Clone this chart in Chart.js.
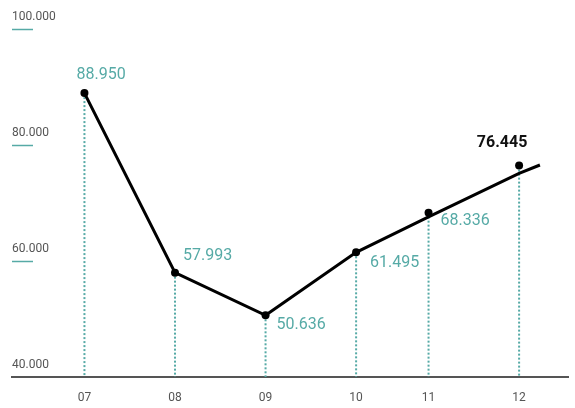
<!DOCTYPE html>
<html>
<head>
<meta charset="utf-8">
<script src="https://cdn.jsdelivr.net/npm/chart.js@4/dist/chart.umd.min.js"></script>
<style>
  html, body { margin: 0; padding: 0; background: #fff; }
  #wrap { width: 575px; height: 408px; }
</style>
</head>
<body>
<div id="wrap"><canvas id="chart"></canvas></div>
<script>
// months on the x axis (11 sits a bit closer to 10 in the original)
var months = ['07', '08', '09', '10', '11', '12'];
var monthPos = [0, 1, 2, 3, 3.8, 4.8];
var values = [88950, 57993, 50636, 61495, 68336, 76445];

// the black line follows the values up to 10, then a trend line past 12
var trendPos = [0, 1, 2, 3, 3.8, 4.8, 5.03];
var trendValues = [88950, 57993, 50636, 61495, 67600, 75100, 76550];

var yTicks = [40000, 60000, 80000, 100000];

var teal = '#56aaa6';
var grey = '#555555';

function fmt(v) {
	return String(Math.round(v)).replace(/\B(?=(\d{3})+(?!\d))/g, '.');
}

// label offsets from each point: [dx, dy, align]
var labelPlace = [
	[-8, -18, 'left'],
	[8, -17, 'left'],
	[11, 10, 'left'],
	[14, 11, 'left'],
	[12, 8, 'left'],
	[-17, -23, 'center']
];

var decor = {
	id: 'decor',
	beforeDatasetsDraw: function(chart) {
		var ctx = chart.ctx, x = chart.scales.x, y = chart.scales.y;
		var area = chart.chartArea;
		ctx.save();
		// short teal marks under the y labels
		ctx.strokeStyle = teal;
		ctx.lineWidth = 1.5;
		yTicks.forEach(function(t, i) {
			if (i == 0) return;
			var py = Math.round(y.getPixelForValue(t)) + 0.5;
			ctx.beginPath();
			ctx.moveTo(area.left, py);
			ctx.lineTo(area.left + 21, py);
			ctx.stroke();
		});
		// dotted drop lines
		ctx.lineWidth = 2;
		ctx.setLineDash([2, 2]);
		values.forEach(function(v, i) {
			var px = x.getPixelForValue(monthPos[i]);
			ctx.beginPath();
			ctx.moveTo(px, y.getPixelForValue(v));
			ctx.lineTo(px, area.bottom);
			ctx.stroke();
		});
		ctx.restore();
	},
	afterDatasetsDraw: function(chart) {
		var ctx = chart.ctx, x = chart.scales.x, y = chart.scales.y;
		ctx.save();
		ctx.textBaseline = 'middle';
		values.forEach(function(v, i) {
			var last = i == values.length - 1;
			var p = labelPlace[i];
			ctx.font = (last ? 'bold ' : '') + '16px Roboto';
			ctx.fillStyle = last ? '#111' : teal;
			ctx.textAlign = p[2];
			ctx.fillText(fmt(v), x.getPixelForValue(monthPos[i]) + p[0], y.getPixelForValue(v) + p[1]);
		});
		ctx.restore();
	}
};

new Chart(document.getElementById('chart'), {
	type: 'line',
	data: {
		datasets: [{
			data: trendPos.map(function(p, i) { return { x: p, y: trendValues[i] }; }),
			borderColor: '#000',
			borderWidth: 3,
			pointRadius: 0,
			tension: 0,
			fill: false
		}, {
			data: monthPos.map(function(p, i) { return { x: p, y: values[i] }; }),
			showLine: false,
			pointRadius: 4,
			pointBackgroundColor: '#000',
			pointBorderWidth: 0
		}]
	},
	options: {
		responsive: true,
		maintainAspectRatio: false,
		animation: false,
		layout: { padding: { left: 12, right: 7, top: 29, bottom: 0 } },
		plugins: { legend: { display: false }, tooltip: { enabled: false } },
		scales: {
			x: {
				type: 'linear',
				min: -0.8,
				max: 5.34,
				grid: { display: false, drawTicks: false, tickLength: 0 },
				border: { display: true, color: grey, width: 2 },
				afterBuildTicks: function(s) {
					s.ticks = monthPos.map(function(v) { return { value: v }; });
				},
				afterFit: function(s) { s.height = 31; },
				ticks: {
					autoSkip: false,
					maxRotation: 0,
					padding: 14,
					color: grey,
					font: { family: 'Roboto', size: 12 },
					callback: function(v) { return months[monthPos.indexOf(v)]; }
				}
			},
			y: {
				min: 40000,
				max: 100000,
				grid: { display: false, drawTicks: false, tickLength: 0 },
				border: { display: false },
				afterBuildTicks: function(s) {
					s.ticks = yTicks.map(function(v) { return { value: v }; });
				},
				ticks: {
					mirror: true,
					padding: 0,
					labelOffset: -12,
					color: grey,
					font: { family: 'Roboto', size: 12 },
					callback: function(v) { return fmt(v); }
				}
			}
		}
	},
	plugins: [decor]
});
</script>
</body>
</html>
